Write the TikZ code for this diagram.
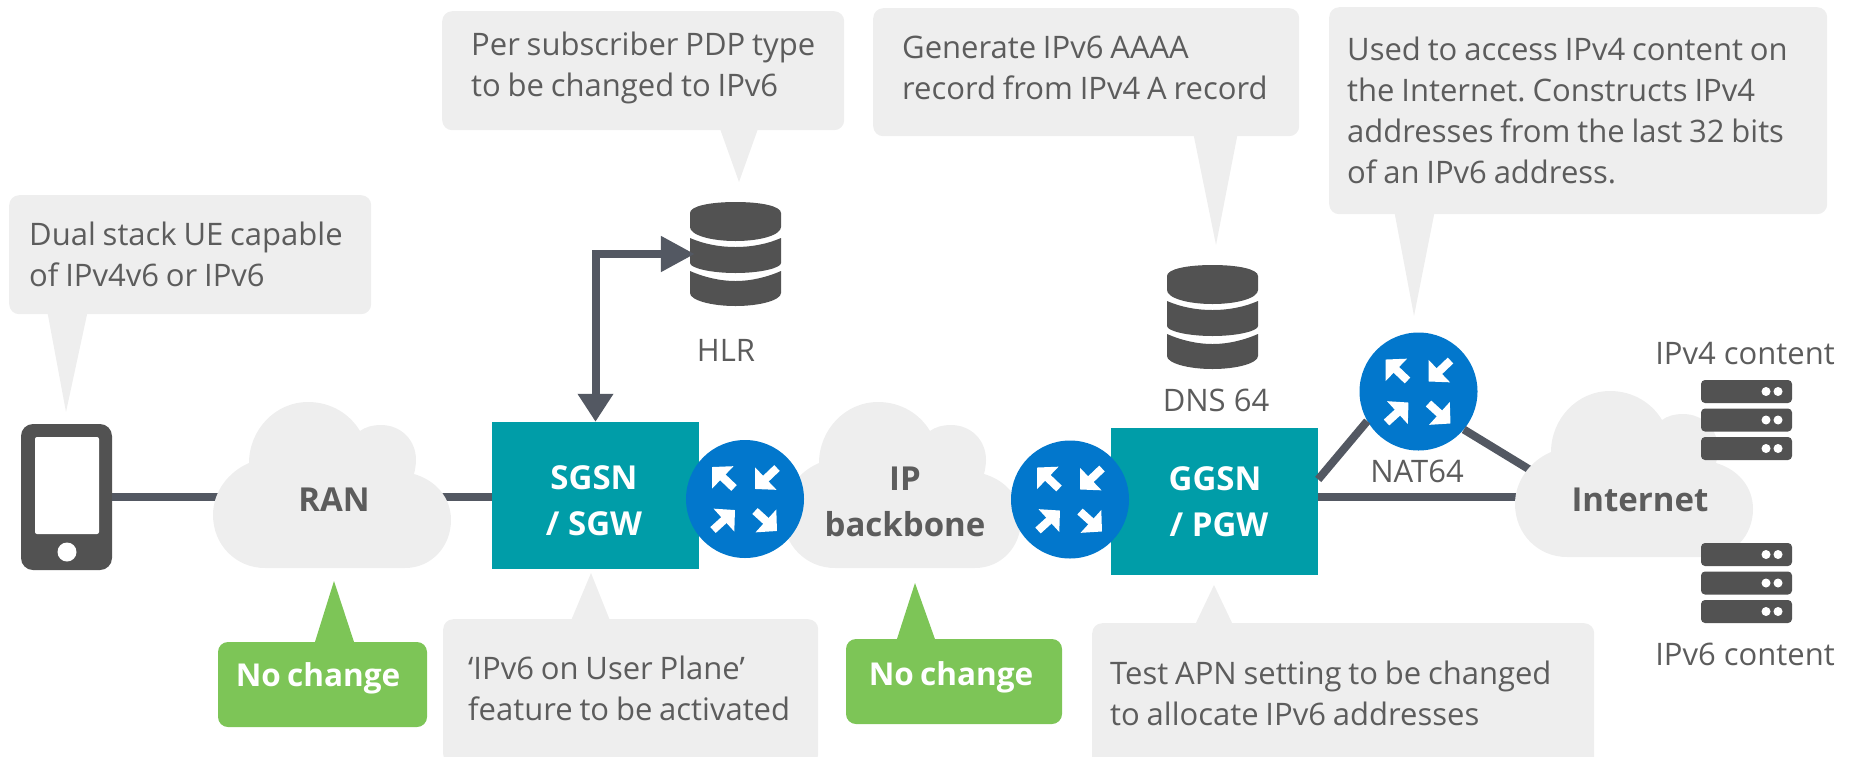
\documentclass[tikz,border=0pt]{standalone}
\usepackage{fontspec}
\setmainfont{Open Sans}
\usepackage{xcolor}
\usetikzlibrary{arrows.meta}

\definecolor{callgrey}{HTML}{EEEEEE}
\definecolor{textgrey}{HTML}{5C5C5C}
\definecolor{icongrey}{HTML}{525252}
\definecolor{linkgrey}{HTML}{535862}
\definecolor{boxteal}{HTML}{009DA8}
\definecolor{routerblue}{HTML}{0277CC}
\definecolor{changegreen}{HTML}{7DC557}

\newcommand{\plainfont}{\fontsize{31}{41}\selectfont}
\newcommand{\notefont}{\fontsize{31}{41}\selectfont\frenchspacing\spaceskip=0.22em\relax}
\newcommand{\headfont}{\fontsize{33}{46}\selectfont\bfseries}
\newcommand{\changefont}{\fontsize{31.5}{41}\selectfont\bfseries\spaceskip=0.2em\relax}

\tikzset{
  calloutbox/.style={fill=callgrey,rounded corners=10pt,anchor=north west,inner sep=0pt},
  calltext/.style={text=textgrey,align=left,font=\notefont,anchor=west,inner sep=0pt},
  calltail/.style={fill=callgrey},
  plainlabel/.style={text=textgrey,font=\plainfont,inner sep=0pt},
  headlabel/.style={text=textgrey,font=\headfont,align=center,inner sep=0pt},
  corebox/.style={fill=boxteal,minimum width=207pt,minimum height=147pt,inner sep=0pt},
  corelabel/.style={text=white,font=\headfont,align=center,inner sep=0pt},
  changebox/.style={fill=changegreen,rounded corners=10pt,minimum width=209pt,minimum height=85pt,inner sep=0pt},
  changetext/.style={text=white,font=\changefont,inner sep=0pt},
  routerdot/.style={circle,fill=routerblue,minimum size=118pt,inner sep=0pt},
  routerglyph/.style={white,line width=8pt,-{Triangle[length=15pt,width=30pt]}},
  link/.style={linkgrey,line width=8pt},
  stackdisc/.style={icongrey,minimum width=91pt,minimum height=104pt,inner sep=0pt},
  serverbar/.style={fill=icongrey,rounded corners=4pt},
  cloudshape/.pic={
    \fill[callgrey] (52,166) .. controls (23,166) and (0,143) .. (0,113)
      .. controls (0,90) and (15,70) .. (36,61)
      .. controls (36,28) and (62,0) .. (95,0)
      .. controls (118,0) and (137,12) .. (147,29)
      .. controls (152,25) and (160,23) .. (168,23)
      .. controls (188,23) and (203,38) .. (203,58)
      .. controls (203,63) and (202,68) .. (201,72)
      .. controls (222,78) and (238,95) .. (238,118)
      .. controls (238,145) and (218,166) .. (192,166) -- cycle;
  },
  routerarrows/.pic={
    \foreach \ax/\ay/\bx/\by in {-11/-11/-33/-32,32/-31/10/-10,-32/31/-10/11,10/12/32/32}
      \draw[routerglyph] (\ax,\ay) -- (\bx,\by);
  },
  stackicon/.pic={
    \fill[icongrey] (-45.5,-41) .. controls (-45.5,-48) and (-25,-52) .. (0,-52)
      .. controls (25,-52) and (45.5,-48) .. (45.5,-41) -- (45.5,-27)
      .. controls (45.5,-19) and (25,-13) .. (0,-13)
      .. controls (-25,-13) and (-45.5,-19) .. (-45.5,-27) -- cycle;
    \fill[icongrey] (-45.5,-16) .. controls (-32,-10) and (-16,-7) .. (0,-7)
      .. controls (16,-7) and (32,-10) .. (45.5,-16) -- (45.5,9)
      .. controls (45.5,14) and (25,19) .. (0,19)
      .. controls (-25,19) and (-45.5,14) .. (-45.5,9) -- cycle;
    \fill[icongrey] (-45.5,17) .. controls (-32,23) and (-16,27) .. (0,27)
      .. controls (16,27) and (32,23) .. (45.5,17) -- (45.5,39)
      .. controls (45.5,46) and (25,52) .. (0,52)
      .. controls (-25,52) and (-45.5,46) .. (-45.5,39) -- cycle;
  },
  serverstack/.pic={
    \foreach \rowy in {0,28.5,57} {
      \fill[serverbar] (0,\rowy) rectangle (91,\rowy+23);
      \fill[white] (65,\rowy+11.5) circle (4.5);
      \fill[white] (77,\rowy+11.5) circle (4.5);
    }
  }
}

\begin{document}
\begin{tikzpicture}[x=1pt,y=-1pt]
\useasboundingbox (0,0) rectangle (1852,756);
\clip (0,0) rectangle (1852,756);

% callouts
\fill[calltail] (47,310) -- (66,412) -- (88,310) -- cycle;
\node[calloutbox,minimum width=362pt,minimum height=119pt] (uenote) at (9,195) {};
\node[calltext] (uetext) at (29,254.5) {Dual stack UE capable\\of IPv4v6 or IPv6};
\fill[calltail] (719,126) -- (739,182) -- (759,126) -- cycle;
\node[calloutbox,minimum width=402pt,minimum height=119pt] (hlrnote) at (442,11) {};
\node[calltext] (hlrtext) at (471,68) {Per subscriber PDP type\\to be changed to IPv6};
\fill[calltail] (1193,132) -- (1216,245) -- (1238,132) -- cycle;
\node[calloutbox,minimum width=426pt,minimum height=128pt] (dnsnote) at (873,8) {};
\node[calltext] (dnstext) at (902,68) {Generate IPv6 AAAA\\record from IPv4 A record};
\fill[calltail] (1394,210) -- (1414,316) -- (1435,210) -- cycle;
\node[calloutbox,minimum width=498pt,minimum height=207pt] (natnote) at (1329,7) {};
\node[calltext] (nattext) at (1347,110.5) {Used to access IPv4 content on\\the Internet. Constructs IPv4\\addresses from the last 32 bits\\of an IPv6 address.};
\fill[calltail] (570,623) -- (591,573) -- (611,623) -- cycle;
\node[calloutbox,minimum width=375pt,minimum height=145pt] (sgsnnote) at (443,619) {};
\node[calltext] (sgsntext) at (468,688) {‘IPv6 on User Plane’\\feature to be activated};
\fill[calltail] (1194,627) -- (1214,585) -- (1234,627) -- cycle;
\node[calloutbox,minimum width=502pt,minimum height=145pt] (ggsnnote) at (1092,623) {};
\node[calltext] (ggsntext) at (1110,693) {Test APN setting to be changed\\to allocate IPv6 addresses};

% phone
\node[fill=icongrey,rounded corners=12pt,minimum width=91pt,minimum height=146pt,inner sep=0pt] (phone) at (66.5,497) {};
\node[fill=white,rounded corners=2pt,minimum width=64pt,minimum height=97pt,inner sep=0pt] (phonescreen) at (67,485.5) {};
\node[circle,fill=white,minimum size=19pt,inner sep=0pt] (phonebutton) at (67,552) {};

% core boxes
\node[corebox] (sgsn) at (595.5,495.5) {};
\node[corelabel] (sgsnlabel) at (594,501) {SGSN\\/ SGW};
\node[corebox] (ggsn) at (1214.5,501.5) {};
\node[corelabel] (ggsnlabel) at (1215,502) {GGSN\\\hspace*{8pt}/ PGW};
\node[routerdot] (natrouter) at (1418.5,391.5) {};
\pic at (natrouter) {routerarrows};

% databases
\node[stackdisc] (hlr) at (735.5,254) {};
\pic at (hlr) {stackicon};
\node[stackdisc] (dns) at (1212.5,317) {};
\pic at (dns) {stackicon};
\node[plainlabel] (hlrlabel) at (726,350) {HLR};
\node[plainlabel] (dnslabel) at (1216,400) {DNS 64};
\node[plainlabel] (natlabel) at (1417,471) {NAT64};

% links
\coordinate (ran) at (332,497);
\coordinate (inet) at (1640,497);
\coordinate (inetjoin) at (1545,479);
\draw[link] (phone) -- (ran) -- (ran -| sgsn.west);
\draw[link] (ggsn.east |- inet) -- (inet);
\draw[link] (ggsn.12) -- (natrouter.210);
\draw[link] (natrouter.-40) -- (inetjoin);
\draw[link,{Triangle[length=28pt,width=34pt]}-{Triangle[length=34pt,width=34pt]},shorten >=-5pt] (sgsn.north) |- (hlr.west);

% clouds
\pic at (213,402) {cloudshape};
\pic at (783,402) {cloudshape};
\pic at (1515,391) {cloudshape};
\node[headlabel] (ranlabel) at (334,500) {RAN};
\node[headlabel] (backbonelabel) at (905,502) {IP\\backbone};
\node[headlabel] (inetlabel) at (1640,500) {Internet};

% routers
\node[routerdot] (sgsnrouter) at (745,499) {};
\pic at (sgsnrouter) {routerarrows};
\node[routerdot] (ggsnrouter) at (1070,499.5) {};
\pic at (ggsnrouter) {routerarrows};

% no change tags
\fill[changegreen] (314,645) -- (334,581) -- (355,645) -- cycle;
\node[changebox] (ranchange) at (322.5,684.5) {};
\node[changetext] (ranchangetext) at (318,678) {No change};
\fill[changegreen] (896,642) -- (915,583) -- (936,642) -- cycle;
\node[changebox,minimum width=216pt] (ipchange) at (954,681.5) {};
\node[changetext] (ipchangetext) at (951,677) {No change};

% content servers
\node[plainlabel] (ipvfourlabel) at (1745,354) {IPv4 content};
\pic at (1701,380) {serverstack};
\pic at (1701,543) {serverstack};
\node[plainlabel] (ipvsixlabel) at (1745,654) {IPv6 content};
\end{tikzpicture}
\end{document}
